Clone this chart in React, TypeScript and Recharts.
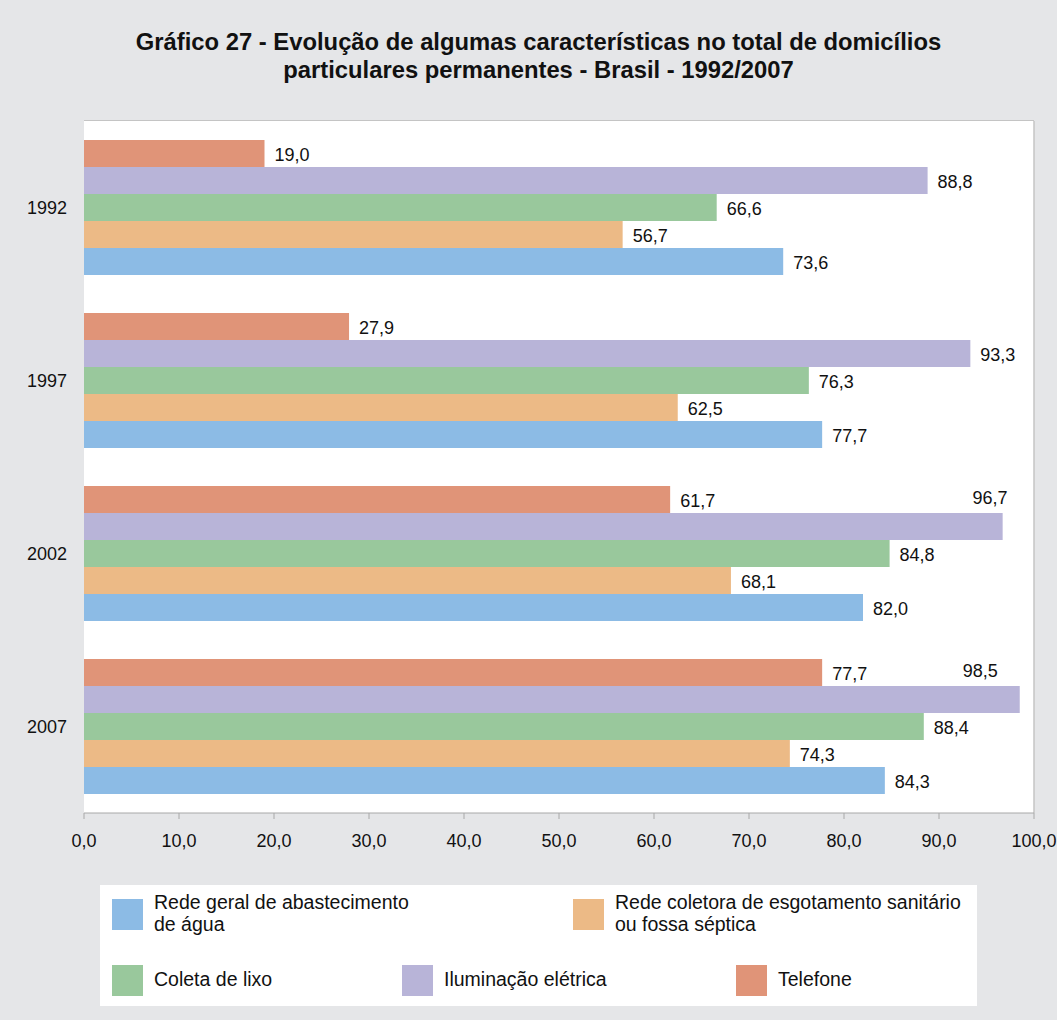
import React from "react";
import {
  BarChart,
  Bar,
  XAxis,
  YAxis,
  CartesianGrid,
  ReferenceLine,
  LabelList,
} from "recharts";

const years = ["1992", "1997", "2002", "2007"];
const telefone = [19.0, 27.9, 61.7, 77.7];
const iluminacao = [88.8, 93.3, 96.7, 98.5];
const coletaLixo = [66.6, 76.3, 84.8, 88.4];
const redeColetora = [56.7, 62.5, 68.1, 74.3];
const redeGeral = [73.6, 77.7, 82.0, 84.3];
const xTicks = [0, 10, 20, 30, 40, 50, 60, 70, 80, 90, 100];

const titleLines = [
  "Gráfico 27 - Evolução de algumas características no total de domicílios",
  "particulares permanentes - Brasil - 1992/2007",
];

const series = [
  { key: "telefone", name: "Telefone", color: "#e09478" },
  { key: "iluminacao", name: "Iluminação elétrica", color: "#b8b4d8" },
  { key: "coletaLixo", name: "Coleta de lixo", color: "#99c89c" },
  { key: "redeColetora", name: "Rede coletora de esgotamento sanitário\nou fossa séptica", color: "#ecba86" },
  { key: "redeGeral", name: "Rede geral de abastecimento\nde água", color: "#8cbbe5" },
];

const data = years.map((y, i) => ({
  year: y,
  telefone: telefone[i],
  iluminacao: iluminacao[i],
  coletaLixo: coletaLixo[i],
  redeColetora: redeColetora[i],
  redeGeral: redeGeral[i],
}));

const FONT = "'Liberation Sans', Arial, Helvetica, sans-serif";
const BG = "#e5e6e8";
const AXIS = "#a8a8a8";
const fmt = (v: number) => v.toFixed(1).replace(".", ",");

const W = 1057;
const H = 1020;
const PLOT_LEFT = 84;
const PLOT_RIGHT = 1034;
const FS = 18;

const renderLabel = (props: any) => {
  const { x, y, width, height, value } = props;
  const end = x + width;
  if (end + 10 + 40 > PLOT_RIGHT) {
    const tx = end + 5 > PLOT_RIGHT - 20 ? end - 22 : end + 5;
    return (
      <text
        x={tx}
        y={y - height / 2 - 2}
        textAnchor="end"
        dominantBaseline="central"
        fontSize={FS}
        fontFamily={FONT}
        fill="#111"
      >
        {fmt(value)}
      </text>
    );
  }
  return (
    <text
      x={end + 10}
      y={y + height / 2 + 1}
      textAnchor="start"
      dominantBaseline="central"
      fontSize={FS}
      fontFamily={FONT}
      fill="#111"
    >
      {fmt(value)}
    </text>
  );
};

const legendItems = [
  { s: series[4], left: 112, top: 899 },
  { s: series[3], left: 573, top: 899 },
  { s: series[2], left: 112, top: 965 },
  { s: series[1], left: 402, top: 965 },
  { s: series[0], left: 736, top: 965 },
];

export default function App() {
  return (
    <div
      style={{
        position: "absolute",
        left: 0,
        top: 0,
        width: W,
        height: H,
        background: BG,
        fontFamily: FONT,
        overflow: "hidden",
      }}
    >
      <div
        style={{
          position: "absolute",
          left: 0,
          top: 28,
          width: 1077,
          textAlign: "center",
          fontWeight: "bold",
          fontSize: 23.8,
          lineHeight: "27.5px",
          color: "#111",
          whiteSpace: "nowrap",
        }}
      >
        {titleLines.map((t, i) => (
          <div key={i}>{t}</div>
        ))}
      </div>
      <div style={{ position: "absolute", left: 0, top: 0 }}>
        <BarChart
          width={W}
          height={H}
          data={data}
          layout="vertical"
          margin={{ top: 121, right: W - PLOT_RIGHT, bottom: 177, left: PLOT_LEFT - 70 }}
          barGap={0}
          barSize={27}
        >
          <CartesianGrid fill="#ffffff" horizontal={false} vertical={false} />
          <XAxis
            type="number"
            domain={[0, 100]}
            ticks={xTicks}
            tickFormatter={fmt}
            stroke={AXIS}
            tickSize={6}
            tickMargin={15}
            tick={{ fill: "#111", fontSize: FS, fontFamily: FONT }}
            height={30}
            interval={0}
          />
          <YAxis
            yAxisId="cat"
            type="category"
            dataKey="year"
            width={70}
            axisLine={false}
            tickLine={false}
            tickSize={0}
            tickMargin={17}
            tick={{ fill: "#111", fontSize: FS, fontFamily: FONT }}
          />
          <YAxis
            yAxisId="num"
            type="number"
            domain={[0, 4]}
            ticks={[0, 1, 2, 3, 4]}
            width={0}
            tick={false}
            tickSize={7}
            stroke={AXIS}
          />
          <ReferenceLine yAxisId="cat" x={100} stroke="#c4c4c4" strokeWidth={1.5} />
          {series.map((s) => (
            <Bar
              key={s.key}
              yAxisId="cat"
              dataKey={s.key}
              fill={s.color}
              isAnimationActive={false}
            >
              <LabelList dataKey={s.key} content={renderLabel} />
            </Bar>
          ))}
        </BarChart>
      </div>
      <div
        style={{
          position: "absolute",
          left: PLOT_LEFT,
          top: 120,
          width: PLOT_RIGHT - PLOT_LEFT,
          height: 0,
          borderTop: "1.5px solid #c4c4c4",
        }}
      />
      <div
        style={{
          position: "absolute",
          left: 100,
          top: 885,
          width: 877,
          height: 121,
          background: "#fff",
        }}
      >
        {legendItems.map(({ s, left, top }, i) => {
          const lines = s.name.split("\n");
          return (
            <div key={i}>
              <div
                style={{
                  position: "absolute",
                  left: left - 100,
                  top: top - 885,
                  width: 31,
                  height: 31,
                  background: s.color,
                }}
              />
              <div
                style={{
                  position: "absolute",
                  left: left - 100 + 42,
                  top: lines.length > 1 ? 891 - 885 : 968 - 885,
                  fontSize: 19.5,
                  lineHeight: "22px",
                  color: "#111",
                  whiteSpace: "nowrap",
                }}
              >
                {lines.map((l, j) => (
                  <div key={j}>{l}</div>
                ))}
              </div>
            </div>
          );
        })}
      </div>
    </div>
  );
}
